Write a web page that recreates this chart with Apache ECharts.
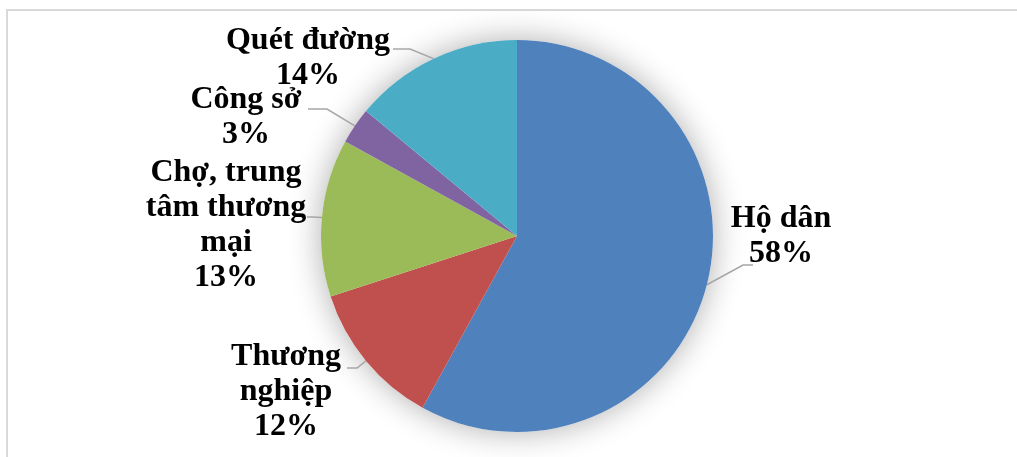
<!DOCTYPE html>
<html>
<head>
<meta charset="utf-8">
<style>
  html, body { margin: 0; padding: 0; background: #fff; }
  #main { width: 1017px; height: 457px; }
</style>
<script src="https://cdn.jsdelivr.net/npm/echarts@6/dist/echarts.min.js"></script>
</head>
<body>
<div id="main"></div>
<script>
var dom = document.getElementById("main");
var myChart = echarts.init(dom);

// du lieu
var categories = ['Hộ dân', 'Thương\nnghiệp', 'Chợ, trung\ntâm thương\nmại', 'Công sở', 'Quét đường'];
var values = [58, 12, 13, 3, 14];
var colors = ['#4F81BD', '#C0504D', '#9BBB59', '#8064A2', '#4BACC6'];

// vi tri nhan (tam khoi chu) va duong dan (khuyu, diem cuoi) tinh tu tam nhan
var labelPos = [[781, 236], [286, 392], [226, 225], [246, 117], [308, 58]];
var lineElbow = [[-38, 29], [71, -24], [86, -8], [81, -8], [102, -9]];
var lineEnd = [[-28, 29], [61, -24], [81, -8], [62, -8], [85, -9]];

var pieData = categories.map(function (name, i) {
	return { name: name, value: values[i], itemStyle: { color: colors[i] } };
});

var option = {
	backgroundColor: '#fff',
	animation: false,
	graphic: [{
		type: 'rect',
		shape: { x: 7, y: 10, width: 1100, height: 600 },
		style: { fill: 'none', stroke: '#d9d9d9', lineWidth: 2 },
		z: -10
	}],
	series: [{
		// bong mo phia sau
		type: 'pie',
		silent: true,
		center: [517, 236],
		radius: 196,
		label: { show: false },
		labelLine: { show: false },
		data: [{ value: 1, itemStyle: { color: '#fff', shadowBlur: 32, shadowColor: 'rgba(0,0,0,0.32)' } }],
		z: 1
	}, {
		type: 'pie',
		center: [517, 236],
		radius: 196,
		startAngle: 90,
		clockwise: true,
		z: 2,
		itemStyle: { borderWidth: 0 },
		label: {
			show: true,
			position: 'outside',
			formatter: '{b}\n{d}%',
			fontFamily: '"Liberation Serif", "Times New Roman", serif',
			fontWeight: 'bold',
			fontSize: 32,
			lineHeight: 35,
			color: '#000',
			align: 'center'
		},
		labelLine: {
			show: true,
			length: 15,
			length2: 15,
			lineStyle: { color: '#a6a6a6', width: 1.5 }
		},
		labelLayout: function (params) {
			var i = params.dataIndex;
			var p = labelPos[i];
			var res = { x: p[0], y: p[1], align: 'center', verticalAlign: 'middle' };
			if (params.labelLinePoints && params.labelLinePoints.length) {
				var a = params.labelLinePoints[0];
				res.labelLinePoints = [
					[a[0], a[1]],
					[p[0] + lineElbow[i][0], p[1] + lineElbow[i][1]],
					[p[0] + lineEnd[i][0], p[1] + lineEnd[i][1]]
				];
			}
			return res;
		},
		data: pieData
	}]
};

myChart.setOption(option);
</script>
</body>
</html>
